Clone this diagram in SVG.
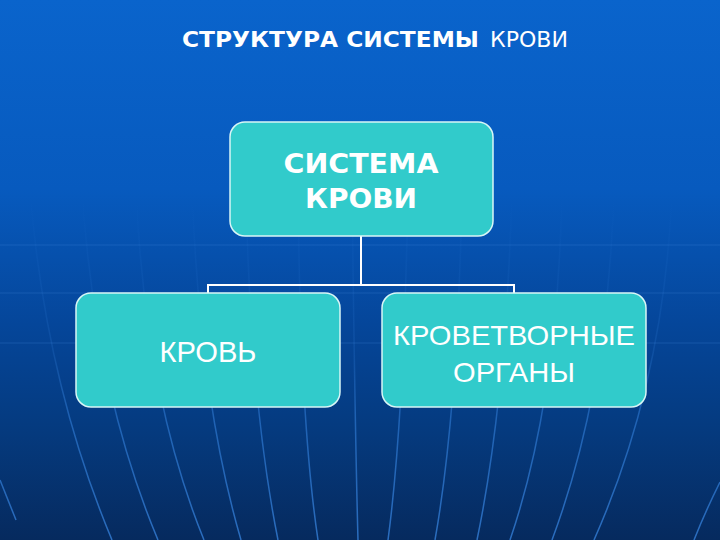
<svg xmlns="http://www.w3.org/2000/svg" width="720" height="540" viewBox="0 0 720 540">
  <defs>
    <linearGradient id="bg" x1="0" y1="0" x2="0" y2="1">
      <stop offset="0" stop-color="#0A64CC"/>
      <stop offset="0.35" stop-color="#075ABE"/>
      <stop offset="0.6" stop-color="#05469A"/>
      <stop offset="0.8" stop-color="#053A7E"/>
      <stop offset="1" stop-color="#062A5E"/>
    </linearGradient>
    <linearGradient id="mer" gradientUnits="userSpaceOnUse" x1="0" y1="200" x2="0" y2="540">
      <stop offset="0" stop-color="#3A8AE8" stop-opacity="0"/>
      <stop offset="0.45" stop-color="#3A8AE8" stop-opacity="0.18"/>
      <stop offset="0.65" stop-color="#3A8AE8" stop-opacity="0.5"/>
      <stop offset="1" stop-color="#3A8AE8" stop-opacity="0.7"/>
    </linearGradient>
    <style>
      .box { fill: #31CBCB; stroke: #D8F6F6; stroke-width: 1.5; }
      .conn { fill: none; stroke: #FFFFFF; stroke-width: 2; }
      .mer { fill: none; stroke: url(#mer); stroke-width: 1.5; }
      .hl { stroke: #4A90E0; stroke-opacity: 0.25; stroke-width: 1.2; }
      .t { fill: #FFFFFF; font-family: "DejaVu Sans", Verdana, sans-serif; text-anchor: middle; }
      .b { font-weight: bold; }
      .r { font-family: "Liberation Sans", Arial, sans-serif; font-weight: normal; }
      .ts { fill: #FFFFFF; font-family: "DejaVu Sans", Verdana, sans-serif; font-size: 21px; }
    </style>
  </defs>

  <rect x="0" y="0" width="720" height="540" fill="url(#bg)"/>

  <g id="background-lines">
    <line class="hl" x1="0" y1="245" x2="720" y2="245"/>
    <line class="hl" x1="0" y1="293" x2="720" y2="293"/>
    <line class="hl" x1="0" y1="343" x2="720" y2="343"/>
    <path class="mer" d="M30 190 Q45 380 112 540"/>
    <path class="mer" d="M82 190 Q95 390 158 540"/>
    <path class="mer" d="M136 190 Q145 395 204 540"/>
    <path class="mer" d="M192 190 Q200 400 241 540"/>
    <path class="mer" d="M246 190 Q250 400 278 540"/>
    <path class="mer" d="M298 190 Q300 420 318 540"/>
    <path class="mer" d="M352 190 Q355 430 358 540"/>
    <path class="mer" d="M408 190 Q404 420 388 540"/>
    <path class="mer" d="M462 190 Q458 410 435 540"/>
    <path class="mer" d="M512 190 Q506 400 477 540"/>
    <path class="mer" d="M562 190 Q558 400 510 540"/>
    <path class="mer" d="M614 190 Q608 390 552 540"/>
    <path class="mer" d="M672 190 Q665 380 594 540"/>
    <path class="mer" d="M0 480 Q8 500 16 520"/>
    <path class="mer" d="M720 482 Q706 510 694 540"/>
  </g>

  <g id="title">
    <text class="ts" y="47"><tspan class="b" x="182" textLength="297" lengthAdjust="spacingAndGlyphs">СТРУКТУРА СИСТЕМЫ</tspan><tspan x="490" textLength="78" lengthAdjust="spacingAndGlyphs">КРОВИ</tspan></text>
  </g>

  <g id="connectors">
    <path class="conn" d="M361 236 V285"/>
    <path class="conn" d="M208 293 V285 H514 V293"/>
  </g>

  <g id="node-system">
    <rect class="box" x="230" y="122" width="263" height="114" rx="15" ry="15"/>
    <text class="t b" x="361" y="173" font-size="27" textLength="155" lengthAdjust="spacingAndGlyphs">СИСТЕМА</text>
    <text class="t b" x="361" y="208" font-size="27" textLength="112" lengthAdjust="spacingAndGlyphs">КРОВИ</text>
  </g>

  <g id="node-blood">
    <rect class="box" x="76" y="293" width="264" height="114" rx="15" ry="15"/>
    <text class="t r" x="208" y="362" font-size="29" textLength="97" lengthAdjust="spacingAndGlyphs">КРОВЬ</text>
  </g>

  <g id="node-organs">
    <rect class="box" x="382" y="293" width="264" height="114" rx="15" ry="15"/>
    <text class="t r" x="514" y="345" font-size="28" textLength="242" lengthAdjust="spacingAndGlyphs">КРОВЕТВОРНЫЕ</text>
    <text class="t r" x="514" y="382" font-size="28" textLength="122" lengthAdjust="spacingAndGlyphs">ОРГАНЫ</text>
  </g>
</svg>
